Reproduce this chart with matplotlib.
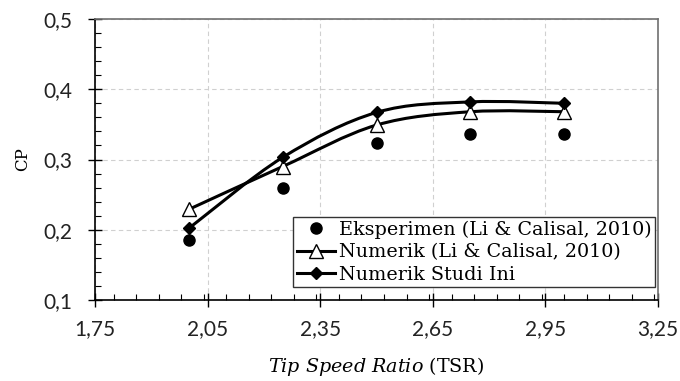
import matplotlib
matplotlib.use("Agg")
import matplotlib.pyplot as plt
from matplotlib.path import Path
from matplotlib.patches import PathPatch
from matplotlib.lines import Line2D
from matplotlib.ticker import MultipleLocator, FixedLocator, FuncFormatter

plt.rcParams['mathtext.fontset'] = 'custom'
plt.rcParams['mathtext.it'] = 'DejaVu Serif:italic'
plt.rcParams['mathtext.rm'] = 'DejaVu Serif'

tsr = [2.0, 2.25, 2.5, 2.75, 3.0]
cp_exp = [0.185, 0.259, 0.324, 0.337, 0.337]
cp_li = [0.229, 0.290, 0.349, 0.368, 0.368]
cp_study = [0.202, 0.303, 0.367, 0.382, 0.380]

xticks = [1.75, 2.05, 2.35, 2.65, 2.95, 3.25]
yticks = [0.1, 0.2, 0.3, 0.4, 0.5]
labels = ["Eksperimen (Li & Calisal, 2010)", "Numerik (Li & Calisal, 2010)", "Numerik Studi Ini"]


def smooth_path(xs, ys):
    n = len(xs)
    verts = [(xs[0], ys[0])]
    codes = [Path.MOVETO]
    for i in range(n - 1):
        x0, y0 = (xs[i - 1], ys[i - 1]) if i > 0 else (xs[i], ys[i])
        x1, y1 = xs[i], ys[i]
        x2, y2 = xs[i + 1], ys[i + 1]
        x3, y3 = (xs[i + 2], ys[i + 2]) if i + 2 < n else (xs[i + 1], ys[i + 1])
        c1 = (x1 + (x2 - x0) / 6.0, y1 + (y2 - y0) / 6.0)
        c2 = (x2 - (x3 - x1) / 6.0, y2 - (y3 - y1) / 6.0)
        verts += [c1, c2, (x2, y2)]
        codes += [Path.CURVE4] * 3
    return Path(verts, codes)


fig = plt.figure(figsize=(6.8, 3.81), dpi=100)
ax = fig.add_axes([95 / 680, 1 - 300 / 381, 563 / 680, 281 / 381])

lw = 2.2
for ys in (cp_li, cp_study):
    ax.add_patch(PathPatch(smooth_path(tsr, ys), facecolor='none', edgecolor='black',
                           lw=lw, transform=ax.transData, zorder=3, capstyle='round'))

ax.plot(tsr, cp_exp, linestyle='none', marker='o', ms=8, color='black', zorder=4)
ax.plot(tsr, cp_li, linestyle='none', marker='^', ms=9.5, mfc='white', mec='black', mew=1.0, zorder=4)
ax.plot(tsr, cp_study, linestyle='none', marker='D', ms=6.5, color='black', zorder=5)

ax.set_xlim(xticks[0], xticks[-1])
ax.set_ylim(yticks[0], yticks[-1])
ax.xaxis.set_major_locator(FixedLocator(xticks))
ax.yaxis.set_major_locator(FixedLocator(yticks))
ax.xaxis.set_minor_locator(MultipleLocator(0.06))
ax.yaxis.set_minor_locator(MultipleLocator(0.02))
fmt2 = FuncFormatter(lambda v, p: f"{v:.2f}".replace('.', ','))
fmt1 = FuncFormatter(lambda v, p: f"{v:.1f}".replace('.', ','))
ax.xaxis.set_major_formatter(fmt2)
ax.yaxis.set_major_formatter(fmt1)

ax.tick_params(which='major', direction='inout', length=10, width=1.0, labelsize=15, color='black')
ax.tick_params(axis='x', which='major', pad=9)
ax.tick_params(axis='y', which='major', pad=11)
ax.tick_params(which='minor', direction='in', length=4, width=0.8, color='black')
for lab in ax.get_xticklabels() + ax.get_yticklabels():
    lab.set_fontfamily('Lato')
    lab.set_color('#222222')

ax.grid(True, which='major', linestyle=(0, (4, 3)), color='#d0d0d0', linewidth=0.8)
ax.set_axisbelow(True)
for s in ('left', 'bottom'):
    ax.spines[s].set_color('black')
    ax.spines[s].set_linewidth(1.2)
for s in ('top', 'right'):
    ax.spines[s].set_color('#707070')
    ax.spines[s].set_linewidth(1.2)

ax.set_xlabel(r'$\mathit{Tip\ Speed\ Ratio}$ (TSR)', fontsize=13.8, family='DejaVu Serif', labelpad=11)
ax.set_ylabel('CP', fontsize=12, family='DejaVu Serif', labelpad=9)

handles = [
    Line2D([], [], linestyle='none', marker='o', ms=8, color='black'),
    Line2D([], [], lw=lw, color='black', marker='^', ms=9.5, mfc='white', mec='black', mew=1.0),
    Line2D([], [], lw=lw, color='black', marker='D', ms=6.5),
]
leg = ax.legend(handles, labels, loc='lower right', bbox_to_anchor=(0.995, 0.045),
                prop={'family': 'DejaVu Serif', 'size': 13.8}, frameon=True, fancybox=False,
                framealpha=1, edgecolor='#333333', borderpad=0.2, labelspacing=0.22,
                handlelength=2.0, handletextpad=0.2, borderaxespad=0, markerscale=1.0)
leg.get_frame().set_linewidth(1.0)
leg.set_zorder(6)

fig.savefig('out.png', dpi=100)
